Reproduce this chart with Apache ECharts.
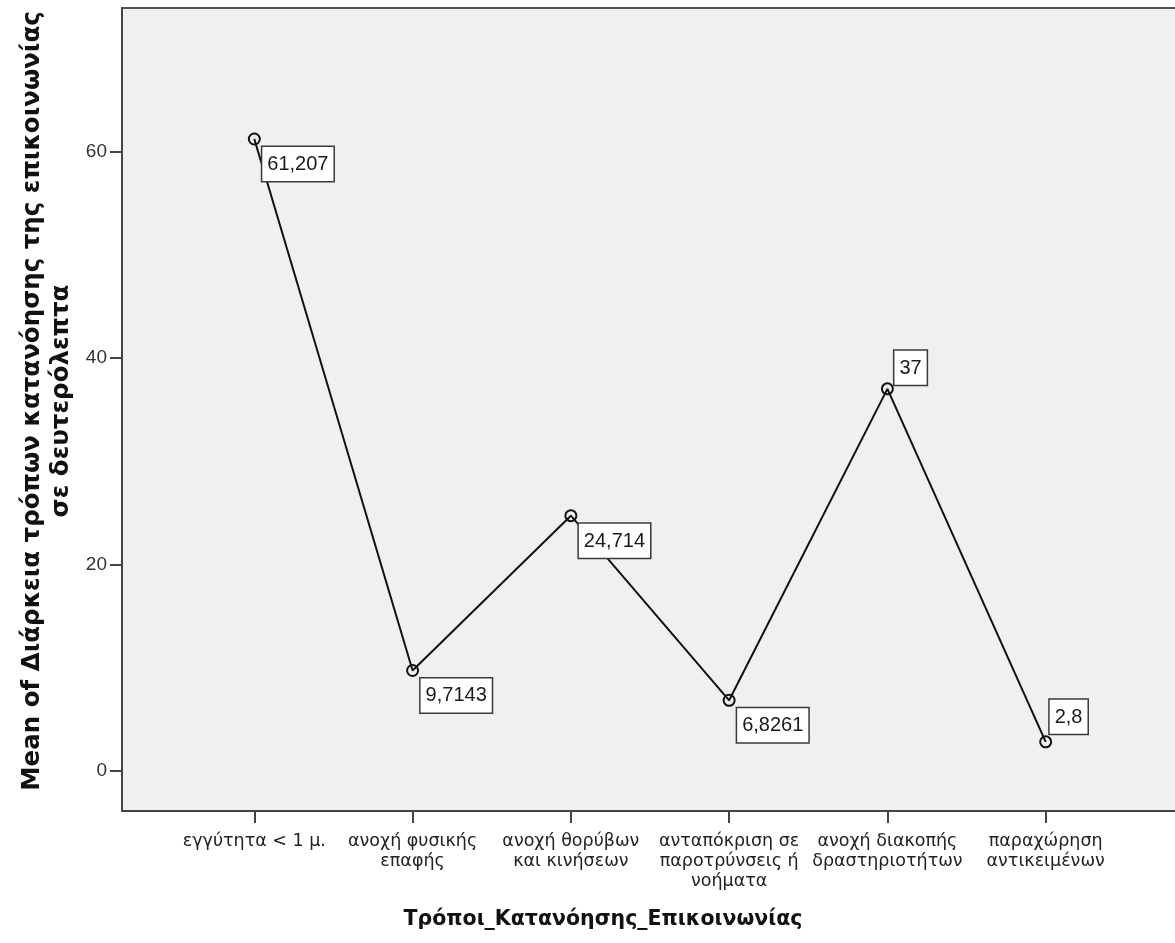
<!DOCTYPE html>
<html>
<head>
<meta charset="utf-8">
<script src="https://cdn.jsdelivr.net/npm/echarts@6/dist/echarts.min.js"></script>
<style>
html,body{margin:0;padding:0;background:#fff;overflow:hidden;width:1175px;height:943px;}
#chart{width:1182px;height:943px;}
</style>
</head>
<body>
<div id="chart"></div>
<script>
const categories = [
  'εγγύτητα < 1 μ.',
  'ανοχή φυσικής\nεπαφής',
  'ανοχή θορύβων\nκαι κινήσεων',
  'ανταπόκριση σε\nπαροτρύνσεις ή\nνοήματα',
  'ανοχή διακοπής\nδραστηριοτήτων',
  'παραχώρηση\nαντικειμένων'
];
const meanValues = [61.207, 9.7143, 24.714, 6.8261, 37, 2.8];
const yTicks = [0, 20, 40, 60];
const xTitle = 'Τρόποι_Κατανόησης_Επικοινωνίας';
const yTitleLines = ['Mean of Διάρκεια τρόπων κατανόησης της επικοινωνίας', 'σε δευτερόλεπτα'];

const chart = echarts.init(document.getElementById('chart'));

const labelBase = {
  show: true,
  position: 'inside',
  formatter: p => String(p.value[1]).replace('.', ','),
  fontFamily: 'Liberation Sans',
  fontSize: 20,
  lineHeight: 25,
  color: '#1a1a1a',
  backgroundColor: '#ffffff',
  borderColor: '#3a3a3a',
  borderWidth: 1.5,
  padding: [5, 5, 4, 5],
  align: 'left'
};

const seriesData = meanValues.map((v, i) => {
  const above = (i === 4 || i === 5);
  const lab = Object.assign({}, labelBase, above
    ? { verticalAlign: 'bottom', offset: i === 4 ? [7, -4] : [4, -8] }
    : { verticalAlign: 'top', offset: [8, 8] });
  return { value: [i, v], label: lab };
});

const option = {
  animation: false,
  backgroundColor: '#ffffff',
  grid: {
    left: 122, top: 8, width: 1056, bottom: 132,
    show: true,
    backgroundColor: '#f0f0f0',
    borderColor: '#555555',
    borderWidth: 2,
    containLabel: false,
    outerBoundsMode: 'none'
  },
  xAxis: {
    type: 'value',
    min: -0.836,
    max: 5.836,
    splitLine: { show: false },
    axisLine: { show: true, onZero: false, lineStyle: { color: '#444', width: 2 } },
    axisTick: { show: true, length: 12, customValues: categories.map((c, i) => i), lineStyle: { color: '#444', width: 2 } },
    axisLabel: {
      customValues: categories.map((c, i) => i),
      formatter: v => categories[Math.round(v)] || '',
      fontFamily: 'DejaVu Sans',
      fontSize: 17.5,
      lineHeight: 20,
      color: '#222',
      margin: 20,
      align: 'center',
      verticalAlign: 'top'
    }
  },
  yAxis: {
    type: 'value',
    min: -3.9,
    max: 73.9,
    splitLine: { show: false },
    axisLine: { show: true, onZero: false, lineStyle: { color: '#444', width: 2 } },
    axisTick: { show: true, length: 12, customValues: yTicks, lineStyle: { color: '#444', width: 2 } },
    axisLabel: {
      customValues: yTicks,
      fontFamily: 'Liberation Sans',
      fontSize: 19,
      color: '#333',
      margin: 15
    }
  },
  series: [{
    type: 'line',
    data: seriesData,
    symbol: 'circle',
    symbolSize: 11,
    lineStyle: { color: '#111', width: 2 },
    itemStyle: { color: 'rgba(0,0,0,0)', borderColor: '#111', borderWidth: 2 },
    z: 3
  }],
  graphic: [
    {
      type: 'text', x: 603, y: 920,
      style: { text: xTitle, fontFamily: 'DejaVu Sans', fontWeight: 'bold', fontSize: 20.5, fill: '#111', align: 'center', verticalAlign: 'middle' }
    },
    {
      type: 'text', x: 33, y: 401, rotation: Math.PI / 2,
      style: { text: yTitleLines[0], fontFamily: 'DejaVu Sans', fontWeight: 'bold', fontSize: 24.5, fill: '#111', align: 'center', verticalAlign: 'middle' }
    },
    {
      type: 'text', x: 62, y: 401, rotation: Math.PI / 2,
      style: { text: yTitleLines[1], fontFamily: 'DejaVu Sans', fontWeight: 'bold', fontSize: 24.5, fill: '#111', align: 'center', verticalAlign: 'middle' }
    }
  ]
};
chart.setOption(option);
</script>
</body>
</html>
